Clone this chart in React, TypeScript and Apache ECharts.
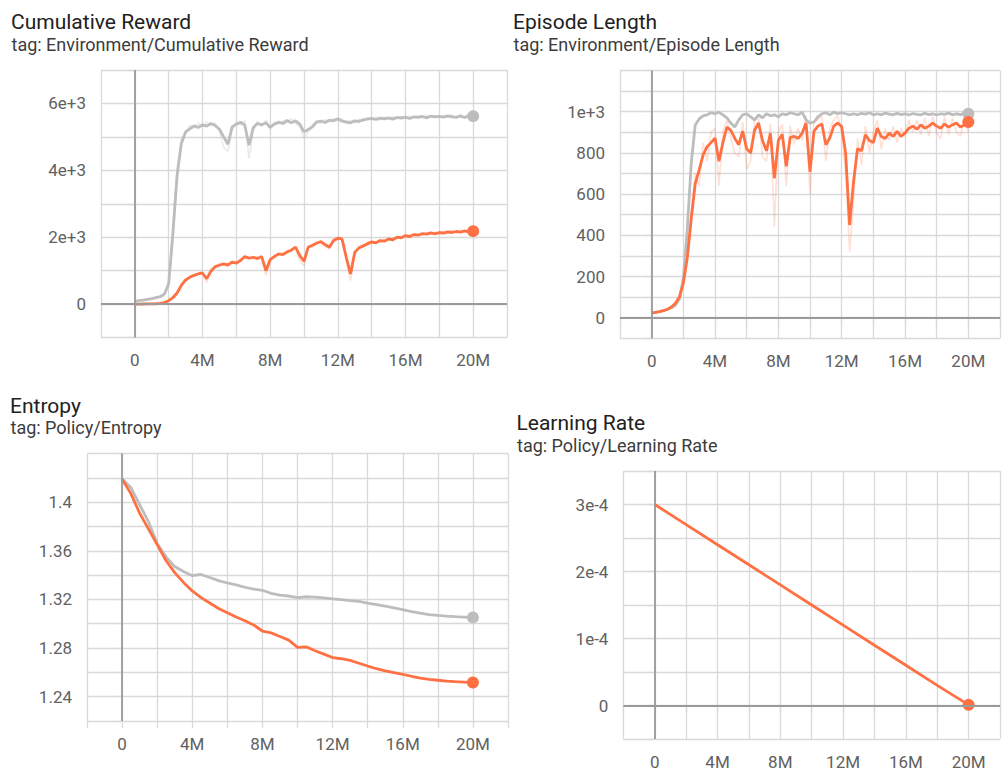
import React, { useEffect, useRef } from "react";
import * as echarts from "echarts";

// ---- data (steps in millions) ----
const STEPS_Q = [0,0.25,0.5,0.75,1,1.25,1.5,1.75,2,2.25,2.5,2.75,3,3.25,3.5,3.75,4,4.25,4.5,4.75,5,5.25,5.5,5.75,6,6.25,6.5,6.75,7,7.25,7.5,7.75,8,8.25,8.5,8.75,9,9.25,9.5,9.75,10,10.25,10.5,10.75,11,11.25,11.5,11.75,12,12.25,12.5,12.75,13,13.25,13.5,13.75,14,14.25,14.5,14.75,15,15.25,15.5,15.75,16,16.25,16.5,16.75,17,17.25,17.5,17.75,18,18.25,18.5,18.75,19,19.25,19.5,19.75,20];

const REWARD_GRAY = [
  80,100,120,140, 160,190,220,300, 600,2100,3850,4800, 5150,5240,5330,5280,
  5360,5320,5400,5340, 5230,5000,4780,5300, 5380,5440,5350,4750, 5280,5400,5360,5420,
  5290,5380,5440,5400, 5490,5420,5480,5380, 5150,5220,5300,5440, 5470,5430,5500,5480,
  5540,5470,5450,5420, 5480,5460,5510,5530, 5550,5520,5560,5540, 5570,5530,5580,5560,
  5590,5550,5600,5580, 5610,5570,5620,5600, 5610,5590,5630,5600, 5590,5620,5580,5640, 5620];
const REWARD_GRAY_RAW = [
  80,100,130,140, 170,180,240,320, 700,2400,4100,4950, 5100,5350,5250,5420,
  5300,5450,5350,5420, 5150,4700,4550,5200, 5450,5350,5500,4350, 5150,5480,5300,5500,
  5200,5450,5380,5480, 5420,5550,5400,5300, 4950,5150,5380,5500, 5400,5520,5450,5560,
  5480,5550,5380,5500, 5420,5540,5460,5580, 5500,5600,5500,5600, 5520,5610,5540,5620,
  5540,5630,5560,5650, 5560,5650,5580,5660, 5570,5650,5590,5670, 5550,5680,5560,5690, 5650];
const REWARD_ORANGE = [
  0,0,2,4, 6,10,18,45, 100,190,330,560, 720,800,860,900,
  930,760,980,1120, 1160,1200,1170,1250, 1230,1300,1420,1370, 1400,1360,1420,1000,
  1330,1420,1500,1480, 1560,1610,1700,1450, 1280,1700,1760,1820, 1870,1780,1700,1900,
  1970,1940,1400,900, 1550,1680,1740,1800, 1860,1830,1900,1880, 1950,1920,2000,1980,
  2050,2020,2080,2060, 2110,2090,2130,2100, 2140,2120,2160,2140, 2170,2150,2190,2160, 2180];
const REWARD_ORANGE_RAW = [
  0,0,3,5, 8,12,22,55, 120,220,380,600, 680,850,820,950,
  880,650,1050,1080, 1220,1150,1100,1300, 1180,1350,1380,1430, 1340,1420,1380,850,
  1250,1480,1450,1540, 1500,1660,1650,1300, 1150,1750,1700,1880, 1820,1720,1650,1960,
  1920,1990,1250,700, 1450,1720,1690,1860, 1810,1880,1850,1930, 1900,1970,1950,2040,
  2000,2080,2030,2110, 2060,2150,2080,2160, 2090,2180,2110,2200, 2120,2210,2140,2220, 2150];

const LENGTH_GRAY = [
  22,26,30,35, 40,48,60,90, 190,430,750,935, 965,980,985,995,
  990,998,985,970, 945,925,960,985, 990,975,960,985, 970,990,980,985,
  975,990,985,995, 990,985,998,960, 945,950,975,990, 995,985,998,990,
  995,990,985,990, 985,992,988,995, 985,990,985,993, 988,985,992,986,
  990,984,991,987, 985,992,986,990, 984,990,987,993, 985,990,986,992, 990];
const LENGTH_ORANGE = [
  24,26,29,34, 41,52,70,100, 167,290,480,650, 718,790,830,850,
  872,760,850,925, 910,870,840,905, 820,800,910,945, 860,810,895,677,
  860,890,735,875, 880,870,895,945, 709,905,930,940, 840,872,930,945,
  928,800,450,660, 820,810,888,860, 850,920,880,870, 896,880,904,880,
  896,920,930,915, 936,920,930,945, 930,920,940,925, 936,945,926,935, 950];
const LENGTH_ORANGE_RAW = [
  24,26,29,34, 41,52,72,105, 180,320,520,700, 640,850,760,900,
  920,640,900,960, 870,800,780,950, 720,760,960,970, 780,760,940,440,
  900,940,640,930, 840,920,860,980, 600,950,960,980, 760,920,960,980,
  900,700,320,560, 870,740,930,800, 900,960,820,920, 860,930,850,920,
  880,960,900,960, 890,970,880,980, 900,870,975,890, 970,900,880,970, 900];

const STEPS_H = [0,0.5,1,1.5,2,2.5,3,3.5,4,4.5,5,5.5,6,6.5,7,7.5,8,8.5,9,9.5,10,10.5,11,11.5,12,12.5,13,13.5,14,14.5,15,15.5,16,16.5,17,17.5,18,18.5,19,19.5,20];
const ENTROPY_GRAY = [1.419,1.412,1.398,1.384,1.366,1.355,1.347,1.343,1.3395,1.3405,1.338,1.3355,1.3335,1.332,1.33,1.3285,1.3275,1.325,1.3235,1.3228,1.3215,1.3222,1.3218,1.3212,1.3205,1.3198,1.319,1.3183,1.317,1.3158,1.3145,1.313,1.3115,1.31,1.3088,1.3075,1.3068,1.3062,1.3058,1.3055,1.3052];
const ENTROPY_ORANGE = [1.419,1.407,1.391,1.378,1.365,1.352,1.342,1.334,1.327,1.3215,1.317,1.3125,1.309,1.3055,1.3025,1.299,1.294,1.2925,1.2895,1.2865,1.2805,1.281,1.2778,1.275,1.2722,1.2712,1.2698,1.2675,1.2652,1.263,1.2612,1.2598,1.2584,1.2568,1.2553,1.2542,1.2535,1.2528,1.2523,1.252,1.2517];

const STEPS_LR = [0,2,4,6,8,10,12,14,16,18,20];
const LR_ORANGE = [3.0e-4,2.7e-4,2.4e-4,2.1e-4,1.8e-4,1.5e-4,1.2e-4,0.9e-4,0.6e-4,0.3e-4,0.01e-4];

const X_LABEL_STEPS = [0, 4, 8, 12, 16, 20];

// ---- styling ----
const ORANGE = "#ff7043";
const GRAY = "#bdbdbd";
const ORANGE_RAW = "rgba(255,112,67,0.22)";
const GRAY_RAW = "rgba(189,189,189,0.3)";
const GRID_LINE = "#d9d9d9";
const ZERO_LINE = "#9a9a9a";
const LABEL = "#616161";
const FONT = "Roboto, 'Noto Sans', sans-serif";
const M = 1e6;

type S = { steps: number[]; vals: number[]; color: string; raw?: boolean; dot?: boolean };

const pts = (steps: number[], vals: number[]) => steps.map((s, i) => [s * M, vals[i]]);

const panels = [
  {
    title: "Cumulative Reward", tag: "tag: Environment/Cumulative Reward", tx: 11, ty: 21.5, sy: 44.5,
    grid: { left: 101, top: 70, width: 406, height: 267.5 },
    y: { min: -1000, max: 7000, interval: 1000 },
    fmt: (v: number) => (Math.round(v) % 2000 === 0 && v >= 0 && v <= 6000 ? (v === 0 ? "0" : v / 1000 + "e+3") : ""),
    zeroY: true,
    series: [
      { steps: STEPS_Q, vals: REWARD_GRAY_RAW, color: GRAY_RAW, raw: true },
      { steps: STEPS_Q, vals: REWARD_ORANGE_RAW, color: ORANGE_RAW, raw: true },
      { steps: STEPS_Q, vals: REWARD_GRAY, color: GRAY, dot: true },
      { steps: STEPS_Q, vals: REWARD_ORANGE, color: ORANGE, dot: true },
    ] as S[],
  },
  {
    title: "Episode Length", tag: "tag: Environment/Episode Length", tx: 513, ty: 22, sy: 44.5,
    grid: { left: 620, top: 70.5, width: 391.5, height: 267.8 },
    y: { min: -100, max: 1200, interval: 100 },
    fmt: (v: number) => {
      const r = Math.round(v);
      if (r < 0 || r > 1000 || r % 200 !== 0) return "";
      return r === 1000 ? "1e+3" : String(r);
    },
    zeroY: true,
    series: [
      { steps: STEPS_Q, vals: LENGTH_ORANGE_RAW, color: ORANGE_RAW, raw: true },
      { steps: STEPS_Q, vals: LENGTH_GRAY, color: GRAY, dot: true },
      { steps: STEPS_Q, vals: LENGTH_ORANGE, color: ORANGE, dot: true },
    ] as S[],
  },
  {
    title: "Entropy", tag: "tag: Policy/Entropy", tx: 10, ty: 405.5, sy: 427.5,
    grid: { left: 87, top: 453.5, width: 421, height: 267.5 },
    y: { min: 1.22, max: 1.44, interval: 0.02 },
    fmt: (v: number) => {
      const r = Math.round(v * 100);
      return (r - 124) % 4 === 0 && r >= 124 && r <= 140 ? String(r / 100) : "";
    },
    zeroY: false,
    series: [
      { steps: STEPS_H, vals: ENTROPY_GRAY, color: GRAY, dot: true },
      { steps: STEPS_H, vals: ENTROPY_ORANGE, color: ORANGE, dot: true },
    ] as S[],
  },
  {
    title: "Learning Rate", tag: "tag: Policy/Learning Rate", tx: 516.5, ty: 423, sy: 445.5,
    grid: { left: 623.4, top: 471, width: 391, height: 268.3 },
    y: { min: -5e-5, max: 3.5e-4, interval: 5e-5 },
    fmt: (v: number) => {
      const r = Math.round(v * 1e5);
      return r % 10 === 0 && r >= 0 && r <= 30 ? (r === 0 ? "0" : r / 10 + "e-4") : "";
    },
    zeroY: true,
    series: [{ steps: STEPS_LR, vals: LR_ORANGE, color: ORANGE, dot: true }] as S[],
  },
];

function buildOption() {
  const grid: any[] = [];
  const xAxis: any[] = [];
  const yAxis: any[] = [];
  const series: any[] = [];
  const graphic: any[] = [];

  panels.forEach((p, gi) => {
    grid.push({ ...p.grid, containLabel: false });
    xAxis.push({
      type: "value", gridIndex: gi, min: -2 * M, max: 22 * M, interval: 2 * M,
      axisLine: { show: false },
      axisTick: { show: true, length: 7, lineStyle: { color: GRID_LINE, width: 1.3 } },
      splitLine: { show: true, lineStyle: { color: GRID_LINE, width: 1.3 } },
      axisLabel: {
        color: LABEL, fontSize: 17, fontFamily: FONT, margin: 14,
        showMinLabel: true, showMaxLabel: true,
        formatter: (v: number) => {
          const r = Math.round(v / M);
          return X_LABEL_STEPS.indexOf(r) >= 0 ? (r === 0 ? "0" : r + "M") : "";
        },
      },
    });
    yAxis.push({
      type: "value", gridIndex: gi, min: p.y.min, max: p.y.max, interval: p.y.interval,
      axisLine: { show: false },
      axisTick: { show: true, length: 7, lineStyle: { color: GRID_LINE, width: 1.3 } },
      splitLine: { show: true, lineStyle: { color: GRID_LINE, width: 1.3 } },
      axisLabel: { color: LABEL, fontSize: 17, fontFamily: FONT, margin: 15, formatter: p.fmt },
    });

    // zero lines
    const zeroData: any[] = [{ xAxis: 0 }];
    if (p.zeroY) zeroData.push({ yAxis: 0 });
    series.push({
      type: "line", xAxisIndex: gi, yAxisIndex: gi, data: [], silent: true, z: 1,
      markLine: {
        silent: true, symbol: ["none", "none"], label: { show: false },
        lineStyle: { color: ZERO_LINE, width: 1.8, type: "solid" },
        emphasis: { disabled: true }, data: zeroData,
      },
    });

    p.series.forEach((s) => {
      const data = pts(s.steps, s.vals);
      series.push({
        type: "line", xAxisIndex: gi, yAxisIndex: gi, data, showSymbol: false, symbol: "none",
        silent: true, z: s.raw ? 2 : 3,
        lineStyle: { color: s.color, width: s.raw ? 1.6 : 2.8 },
        itemStyle: { color: s.color },
      });
      if (s.dot) {
        series.push({
          type: "scatter", xAxisIndex: gi, yAxisIndex: gi, data: [data[data.length - 1]],
          symbol: "circle", symbolSize: 12, silent: true, z: 4,
          itemStyle: { color: s.color, opacity: 1 },
        });
      }
    });

    graphic.push({
      type: "text", x: p.tx, y: p.ty, silent: true,
      style: { text: p.title, fontSize: 21, fontFamily: FONT, fill: "#212121", verticalAlign: "middle", align: "left" },
    });
    graphic.push({
      type: "text", x: p.tx + 0.5, y: p.sy, silent: true,
      style: { text: p.tag, fontSize: 18, fontFamily: FONT, fill: "#3c3c3c", verticalAlign: "middle", align: "left" },
    });
  });

  return { animation: false, backgroundColor: "#ffffff", grid, xAxis, yAxis, series, graphic };
}

export default function App() {
  const ref = useRef<HTMLDivElement>(null);
  useEffect(() => {
    if (!ref.current) return;
    const chart = echarts.init(ref.current, undefined, { renderer: "svg" });
    chart.setOption(buildOption() as any);
    return () => chart.dispose();
  }, []);
  return <div ref={ref} style={{ position: "absolute", left: 0, top: 0, width: 1003, height: 770 }} />;
}
